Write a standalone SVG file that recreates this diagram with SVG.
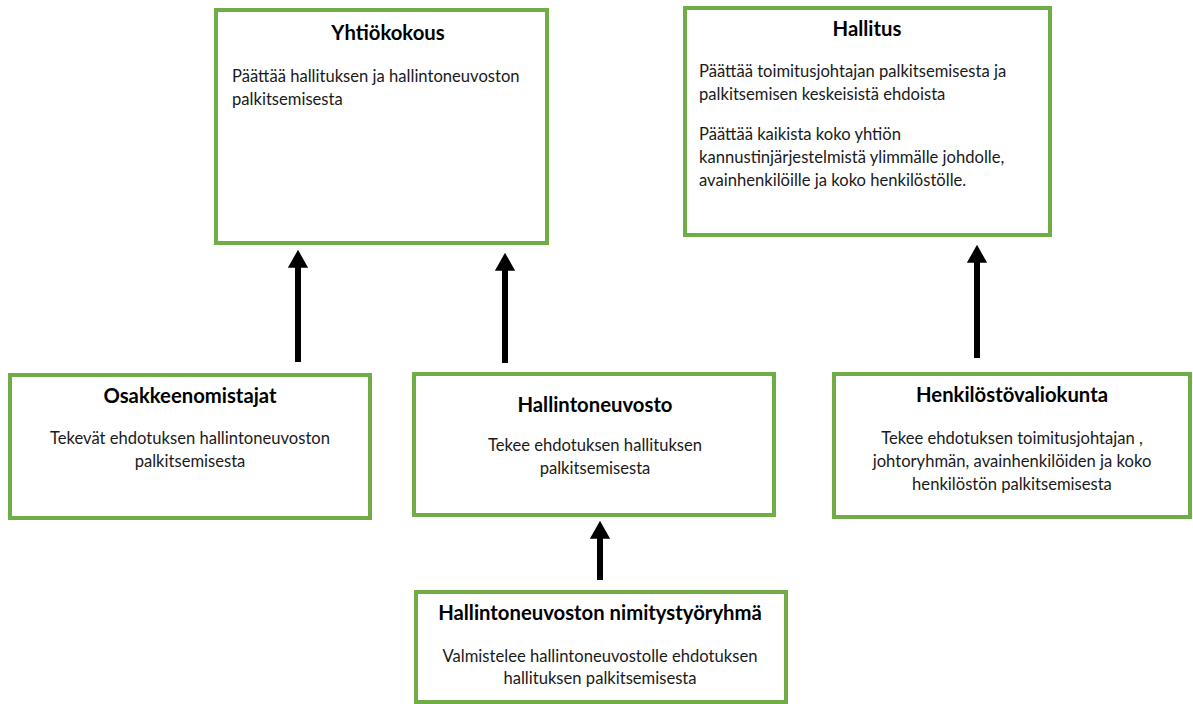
<svg xmlns="http://www.w3.org/2000/svg" width="1193" height="704" viewBox="0 0 1193 704">
<style>
.box{fill:#fff;stroke:#70AD47;stroke-width:4}
.t{font-family:Lato,"Open Sans","Liberation Sans",sans-serif;font-weight:bold;font-size:20.3px;fill:#000;text-anchor:middle}
.b{font-family:Lato,"Open Sans","Liberation Sans",sans-serif;font-size:16.6px;fill:#1a1a1a}
.c{text-anchor:middle}
.arr{stroke:#000;stroke-width:6;fill:none}
</style>
<defs>
<marker id="ah" markerWidth="3" markerHeight="3.4" refX="0.3" refY="1.7" orient="auto" markerUnits="strokeWidth">
<path d="M0,0 L3,1.7 L0,3.4 Z" fill="#000"/>
</marker>
</defs>
<rect width="1193" height="704" fill="#fff"/>
<g id="yhtiokokous">
<rect class="box" x="216" y="10" width="331" height="233"/>
<text class="t" x="388" y="40">Yhtiökokous</text>
<text class="b" x="232" y="82">Päättää hallituksen ja hallintoneuvoston</text>
<text class="b" x="232" y="105">palkitsemisesta</text>
</g>
<g id="hallitus">
<rect class="box" x="685" y="8" width="365" height="227"/>
<text class="t" x="867" y="36">Hallitus</text>
<text class="b" x="699" y="77">Päättää toimitusjohtajan palkitsemisesta ja</text>
<text class="b" x="699" y="100">palkitsemisen keskeisistä ehdoista</text>
<text class="b" x="699" y="140">Päättää kaikista koko yhtiön</text>
<text class="b" x="699" y="163">kannustinjärjestelmistä ylimmälle johdolle,</text>
<text class="b" x="699" y="186">avainhenkilöille ja koko henkilöstölle.</text>
</g>
<g id="osakkeenomistajat">
<rect class="box" x="10" y="375" width="360" height="143"/>
<text class="t" x="190" y="403">Osakkeenomistajat</text>
<text class="b c" x="190" y="444">Tekevät ehdotuksen hallintoneuvoston</text>
<text class="b c" x="190" y="467">palkitsemisesta</text>
</g>
<g id="hallintoneuvosto">
<rect class="box" x="414" y="374" width="360" height="141"/>
<text class="t" x="595" y="412">Hallintoneuvosto</text>
<text class="b c" x="595" y="451">Tekee ehdotuksen hallituksen</text>
<text class="b c" x="595" y="474">palkitsemisesta</text>
</g>
<g id="henkilostovaliokunta">
<rect class="box" x="834" y="374" width="356" height="143"/>
<text class="t" x="1012" y="402">Henkilöstövaliokunta</text>
<text class="b c" x="1012" y="444">Tekee ehdotuksen toimitusjohtajan ,</text>
<text class="b c" x="1012" y="467">johtoryhmän, avainhenkilöiden ja koko</text>
<text class="b c" x="1012" y="490">henkilöstön palkitsemisesta</text>
</g>
<g id="nimitystyoryhma">
<rect class="box" x="416" y="592" width="370" height="110"/>
<text class="t" x="600" y="620">Hallintoneuvoston nimitystyöryhmä</text>
<text class="b c" x="600" y="662">Valmistelee hallintoneuvostolle ehdotuksen</text>
<text class="b c" x="600" y="684">hallituksen palkitsemisesta</text>
</g>
<g id="connectors">
<line class="arr" x1="298" y1="362" x2="298" y2="266" marker-end="url(#ah)"/>
<line class="arr" x1="505" y1="363" x2="505" y2="269" marker-end="url(#ah)"/>
<line class="arr" x1="977" y1="358" x2="977" y2="261" marker-end="url(#ah)"/>
<line class="arr" x1="600" y1="580" x2="600" y2="537" marker-end="url(#ah)"/>
</g>
</svg>
